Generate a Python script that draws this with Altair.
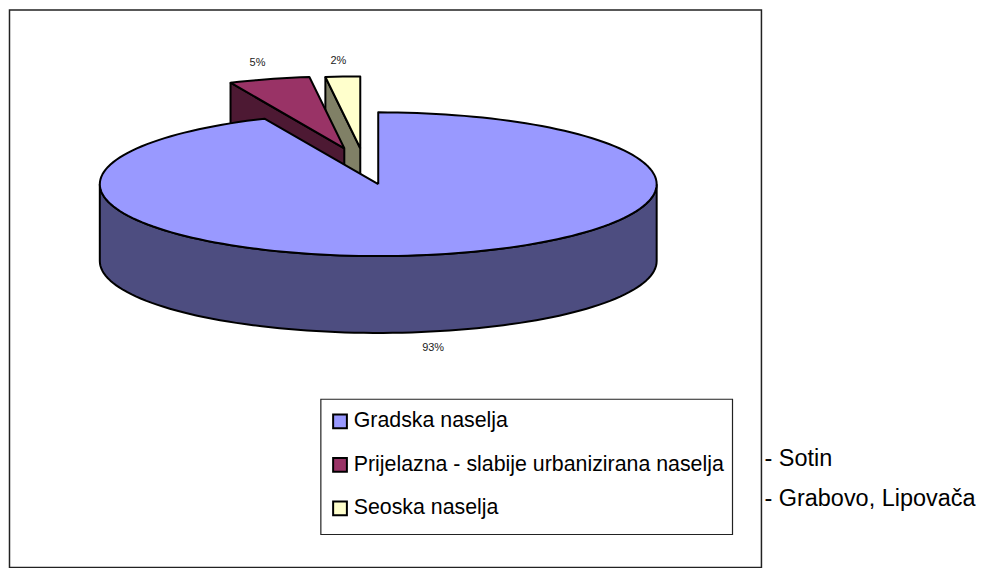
import math
import altair as alt
import pandas as pd

# ---- chart values ----
categories = ["Gradska naselja", "Prijelazna - slabije urbanizirana naselja", "Seoska naselja"]
shares = [93.3, 4.7, 2.0]
labels = ["93%", "5%", "2%"]
top_colors = ["#9999FF", "#993366", "#FFFFCC"]
side_colors = ["#4D4D80", "#4D1933", "#808066"]
notes = ["- Sotin", "- Grabovo, Lipovača"]

# ---- layout (px) ----
W, H = 968, 560
CX, CY, RX, RY, DEPTH = 370, 175, 279, 72, 77
EXPLODE = [(0, 0), (-34, -36), (-18, -36)]
LABEL_POS = [(425, 339), (249, 54), (330, 52)]
NOTE_POS = [(757, 450), (757, 490)]
FONT = "Liberation Sans"

x_scale = alt.Scale(domain=[-CX / RX, (W - CX) / RX], nice=False, zero=False)
y_scale = alt.Scale(domain=[-(H - CY) / RY, CY / RY], nice=False, zero=False)
X = lambda: alt.X("x:Q", scale=x_scale, axis=None)
Y = lambda: alt.Y("y:Q", scale=y_scale, axis=None)


def rim(a0, a1, dx, dy, drop=0.0):
    """Rim points of the tilted disc between two clockwise angles (degrees)."""
    n = max(2, int(abs(a1 - a0) / 2) + 1)
    pts = []
    for i in range(n + 1):
        a = math.radians(a0 + (a1 - a0) * i / n)
        pts.append((math.sin(a) + dx / RX, math.cos(a) - (dy + drop) / RY))
    return pts


def poly(points, fill):
    closed = list(points) + [points[0]]
    df = pd.DataFrame({"x": [p[0] for p in closed], "y": [p[1] for p in closed], "i": range(len(closed))})
    return alt.Chart(df).mark_line(
        fill=fill, stroke="black", strokeWidth=2, strokeJoin="round", clip=False
    ).encode(x=X(), y=Y(), order=alt.Order("i:Q"))


# slice angles from the shares
a_main = 360 * shares[0] / 100
a_mid = 360 * (shares[0] + shares[1]) / 100
spans = [(0, a_main), (a_main, a_mid), (a_mid, 360)]

layers = []

# frame
frame = pd.DataFrame({"k": [0]})
layers.append(alt.Chart(frame).mark_rect(fill="white", stroke="#222222", strokeWidth=1.5).encode(
    x=alt.value(0.5), x2=alt.value(754), y=alt.value(0.5), y2=alt.value(559)))

# small exploded slices: radial side face, then top
for idx in (2, 1):
    dx, dy = EXPLODE[idx]
    a0, a1 = spans[idx]
    apex = (dx / RX, -dy / RY)
    apex_low = (dx / RX, -(dy + DEPTH) / RY)
    e = rim(a0, a0, dx, dy)[0]
    e_low = rim(a0, a0, dx, dy, DEPTH)[0]
    layers.append(poly([e, apex, apex_low, e_low], side_colors[idx]))
    layers.append(poly([apex] + rim(a0, a1, dx, dy), top_colors[idx]))

# main slice: outer wall, then top
wall = rim(90, 270, 0, 0) + rim(270, 90, 0, 0, DEPTH)
layers.append(poly(wall, side_colors[0]))
layers.append(poly([(0, 0)] + rim(0, a_main, 0, 0), top_colors[0]))

# percent labels
lab_df = pd.DataFrame({"t": labels, "px": [p[0] for p in LABEL_POS], "py": [p[1] for p in LABEL_POS]})
layers.append(alt.Chart(lab_df).mark_text(font=FONT, fontSize=11, color="#222222", align="center", baseline="middle").encode(
    x=alt.X("px:Q", scale=None), y=alt.Y("py:Q", scale=None), text="t:N"))

# legend box
layers.append(alt.Chart(frame).mark_rect(fill="white", stroke="#222222", strokeWidth=1.2).encode(
    x=alt.value(312.5), x2=alt.value(725), y=alt.value(390.5), y2=alt.value(526)))

# real legend, fed by invisible squares
leg_df = pd.DataFrame({"name": categories, "x": [0, 0, 0], "y": [0, 0, 0]})
layers.append(alt.Chart(leg_df).mark_square(size=0).encode(
    x=X(), y=Y(),
    color=alt.Color("name:N", sort=categories,
                    scale=alt.Scale(domain=categories, range=top_colors),
                    legend=alt.Legend(
                        title=None, orient="none", legendX=321, legendY=402, padding=0,
                        symbolType="square", symbolSize=190, symbolStrokeColor="black",
                        symbolStrokeWidth=2, symbolOpacity=1, labelFont=FONT, labelFontSize=21.4,
                        labelColor="black", labelLimit=420, labelOffset=3, rowPadding=20.6,
                    ))))

# side notes
note_df = pd.DataFrame({"t": notes, "px": [p[0] for p in NOTE_POS], "py": [p[1] for p in NOTE_POS]})
layers.append(alt.Chart(note_df).mark_text(font=FONT, fontSize=23.5, color="black", align="left", baseline="middle").encode(
    x=alt.X("px:Q", scale=None), y=alt.Y("py:Q", scale=None), text="t:N"))

chart = alt.layer(*layers).properties(width=W, height=H, padding=0, background="white").configure_view(stroke=None)
chart.save("out.html", embed_options={"renderer": "svg", "actions": False})
